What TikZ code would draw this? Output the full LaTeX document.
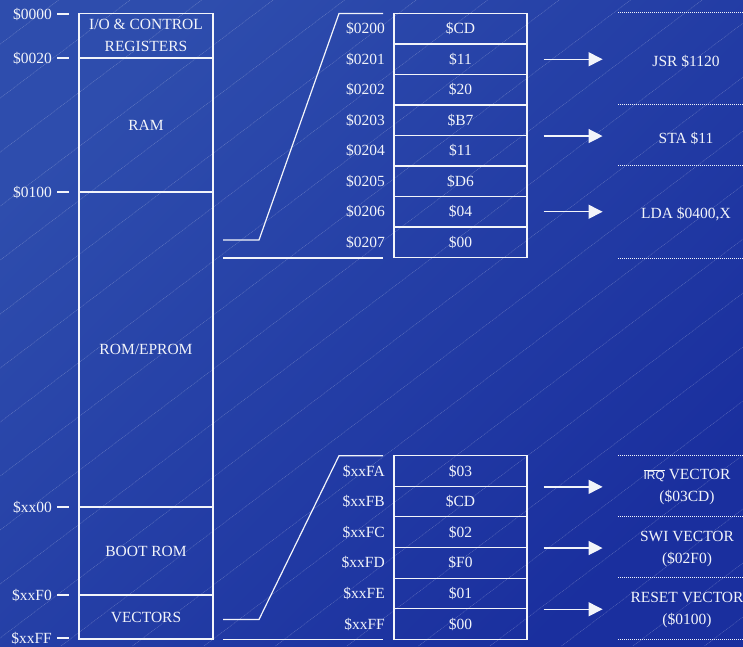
\documentclass[tikz,border=0pt]{standalone}
\usepackage{fontspec}
\setmainfont{Liberation Serif}
\setsansfont{Liberation Sans}
\usetikzlibrary{arrows.meta}
\definecolor{bgtop}{HTML}{2E4DAD}
\definecolor{bgbot}{HTML}{1A2F9E}
\definecolor{ink}{HTML}{F2F4FA}
\begin{document}
\begin{tikzpicture}[x=1pt,y=-1pt,
  font=\fontsize{15.5}{22}\selectfont,
  every node/.style={text=ink},
  memblk/.style={draw=ink, line width=1.2pt, minimum width=134, inner sep=0pt, align=center},
  cell/.style={draw=ink, line width=1.1pt, minimum width=133, minimum height=30.5, inner sep=0pt},
  addr/.style={anchor=east, inner sep=0pt},
  arr/.style={draw=ink, line width=1.3pt, -{Triangle[length=14pt,width=14pt]}},
  zoomline/.style={draw=ink, line width=1.2pt},
  dotrule/.style={draw=ink, line width=0.8pt, dash pattern=on 1pt off 1pt},
  hatch/.style={draw=white, opacity=0.25, line width=0.5pt, dash pattern=on 1pt off 0.8pt}]

  \useasboundingbox (0,0) rectangle (743,646);
  \shade[top color=bgtop, bottom color=bgbot, shading angle=45] (0,0) rectangle (743,646);
  \begin{scope}
    \clip (0,0) rectangle (743,646);
    \foreach \k in {-9,...,13}
      \draw[hatch] (-225+71.5*\k,646) -- ++(1000,-755);
  \end{scope}

  % memory map
  \node[memblk, minimum height=44.5] (io) at (146,35.75) {I/O \& CONTROL\\REGISTERS};
  \node[memblk, minimum height=134] (ram) at (146,125) {RAM};
  \node[memblk, minimum height=315] (rom) at (146,349.5) {ROM/EPROM};
  \node[memblk, minimum height=88] (boot) at (146,551) {BOOT ROM};
  \node[memblk, minimum height=44] (vec) at (146,617) {VECTORS};
  \foreach \y/\t in {14/0000, 58/0020, 192/0100, 507/xx00, 595/xxF0, 638/xxFF} {
    \node[addr] (m\t) at (52,\y) {\$\t};
    \draw[zoomline] (57,\y) -- (69,\y);
  }

  % page 2 zoom
  \draw[zoomline] (223,240) -- (259,240) -- (339,13.5) -- (383,13.5);
  \draw[zoomline] (223,258) -- (383,258);
  \foreach \v [count=\i from 0] in {CD,11,20,B7,11,D6,04,00} {
    \node[cell] (u\i) at (460.5,{13.5+30.5*(\i+0.5)}) {\$\v};
    \node[addr] (ua\i) at (385,{13.5+30.5*(\i+0.5)}) {\$020\i};
  }
  \draw[arr] ([xshift=16]u1.east) -- ++(59,0);
  \draw[arr] ([xshift=16]u3.south east) -- ++(59,0);
  \draw[arr] ([xshift=16]u6.east) -- ++(59,0);
  \node (jsr) at (686,61) {JSR \$1120};
  \node (sta) at (686,138) {STA \$11};
  \node (lda) at (686,214) {LDA \$0400,X};

  % vectors zoom
  \draw[zoomline] (223,619.5) -- (259,619.5) -- (339,455.7) -- (383,455.7);
  \draw[zoomline] (223,639.3) -- (383,639.3);
  \foreach \v/\a [count=\i from 0] in {03/A,CD/B,02/C,F0/D,01/E,00/F} {
    \node[cell, minimum height=30.6] (l\i) at (460.5,{455.7+30.6*(\i+0.5)}) {\$\v};
    \node[addr] (la\i) at (385,{455.7+30.6*(\i+0.5)}) {\$xxF\a};
  }
  \draw[arr] ([xshift=16]l0.south east) -- ++(59,0);
  \draw[arr] ([xshift=16]l2.south east) -- ++(59,0);
  \draw[arr] ([xshift=16]l4.south east) -- ++(59,0);
  \node[align=center] (irq) at (687,487) {$\overline{\mbox{\fontsize{12}{12}\sffamily IRQ}}$ VECTOR\\(\$03CD)};
  \node[align=center] (swi) at (687,549.5) {SWI VECTOR\\(\$02F0)};
  \node[align=center] (rst) at (687,610) {RESET VECTOR\\(\$0100)};

  \foreach \y in {12,104,165,258,455.3,516.7,577.3,639}
    \draw[dotrule] (618,\y) -- (743,\y);
\end{tikzpicture}
\end{document}
